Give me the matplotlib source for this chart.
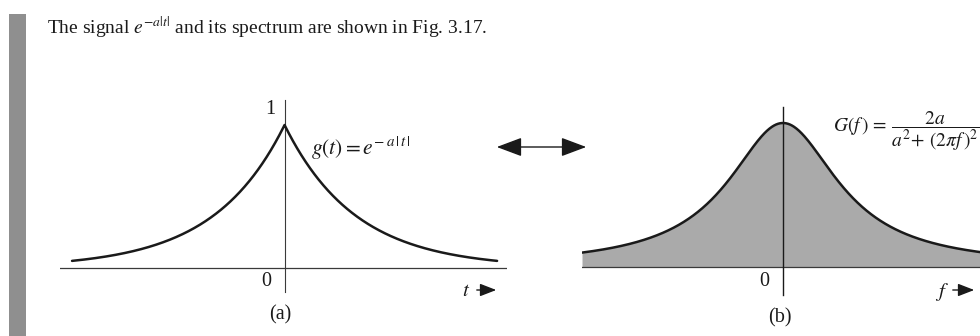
import numpy as np
import matplotlib
matplotlib.use("Agg")
import matplotlib.pyplot as plt
from matplotlib.patches import Rectangle, FancyArrowPatch

plt.rcParams["font.family"] = ["Liberation Serif", "DejaVu Serif"]
plt.rcParams["mathtext.fontset"] = "stix"

W, H = 980, 336

# signal and spectrum parameters
a = 1.0
t_span = (-3.0, 3.0)            # extent of the drawn time signal
t_axis = (-3.17, 3.14)          # extent of the time axis
f_axis = (-0.4774, 0.4798)      # extent of the frequency axis

t = np.linspace(t_span[0], t_span[1], 801)
g = np.exp(-a * np.abs(t))

f = np.linspace(f_axis[0], f_axis[1], 801)
G = 2 * a / (a**2 + (2 * np.pi * f) ** 2)

caption = r"The signal $e^{-a|t|}$ and its spectrum are shown in Fig. 3.17."
g_label = r"$g(t) = e^{-\,a\,|\,t\,|}$"
G_label = r"$G(f\,)\,=\,\dfrac{2a}{a^2\!+\,(2\pi f\,)^2}$"

ink = "#1a1a1a"
axis_ink = "#3a3a3a"
fill_grey = "#aaaaaa"
bar_grey = "#8f8f8f"

fig = plt.figure(figsize=(W / 100, H / 100), dpi=100)


def px_axes(x0, y0, x1, y1):
    """Axes placed by pixel box (top-left origin)."""
    ax = fig.add_axes([x0 / W, 1 - y1 / H, (x1 - x0) / W, (y1 - y0) / H])
    ax.set_axis_off()
    return ax


def px_text(x, y, s, **kw):
    fig.text(x / W, 1 - y / H, s, **kw)


def px_arrow(x0, y0, x1, y1, style, scale, lw):
    arr = FancyArrowPatch((x0 / W, 1 - y0 / H), (x1 / W, 1 - y1 / H),
                          transform=fig.transFigure, arrowstyle=style,
                          mutation_scale=scale, lw=lw, color=ink)
    fig.add_artist(arr)


# margin bar
fig.add_artist(Rectangle((9 / W, 0), 17 / W, 1 - 14 / H,
                         transform=fig.transFigure, color=bar_grey, lw=0))

# caption
px_text(47, 34, caption, fontsize=14, color=ink, va="baseline")

# (a) time signal
ax1 = px_axes(60, 95, 507, 300)
ax1.set_xlim(*t_axis)
ax1.set_ylim(-(300 - 268) / 143, (268 - 95) / 143)
ax1.plot(t_axis, [0, 0], color=axis_ink, lw=0.9)
ax1.plot([0, 0], [-0.168, 1.175], color=axis_ink, lw=0.8)
ax1.plot(t, g, color=ink, lw=1.8, solid_capstyle="round")

px_text(275, 110, "1", fontsize=14.5, ha="right", va="center", color=ink)
px_text(271, 282, "0", fontsize=14.5, ha="right", va="center", color=ink)
px_text(311, 148, g_label, fontsize=15.5, ha="left", va="center", color=ink)
px_text(466, 291, r"$t$", fontsize=15, ha="center", va="center", color=ink)
px_arrow(474, 290, 499, 290, "-|>,head_length=0.9,head_width=0.35", 11, 1.0)
px_text(280, 315, "(a)", fontsize=14.5, ha="center", va="center", color=ink)

# transform pair arrow
px_arrow(494, 147, 589, 147, "<|-|>,head_length=1.2,head_width=0.45", 13, 1.0)

# (b) spectrum
ax2 = px_axes(582, 95, 985, 300)
ax2.set_xlim(*f_axis)
ax2.set_ylim(-(300 - 267) / 72, (267 - 95) / 72)
ax2.fill_between(f, 0, G, color=fill_grey, lw=0)
ax2.plot(f_axis, [0, 0], color=axis_ink, lw=0.9)
ax2.plot([0, 0], [-0.39, 2.22], color=ink, lw=1.0)
ax2.plot(f, G, color=ink, lw=1.8)

px_text(769, 282, "0", fontsize=14.5, ha="right", va="center", color=ink)
px_text(833, 131, G_label, fontsize=14, ha="left", va="center", color=ink)
px_text(942, 292, r"$f$", fontsize=15, ha="center", va="center", color=ink)
px_arrow(950, 290, 977, 290, "-|>,head_length=0.9,head_width=0.35", 11, 1.0)
px_text(780, 318, "(b)", fontsize=14.5, ha="center", va="center", color=ink)

fig.savefig("out.png", dpi=100, facecolor="white")
